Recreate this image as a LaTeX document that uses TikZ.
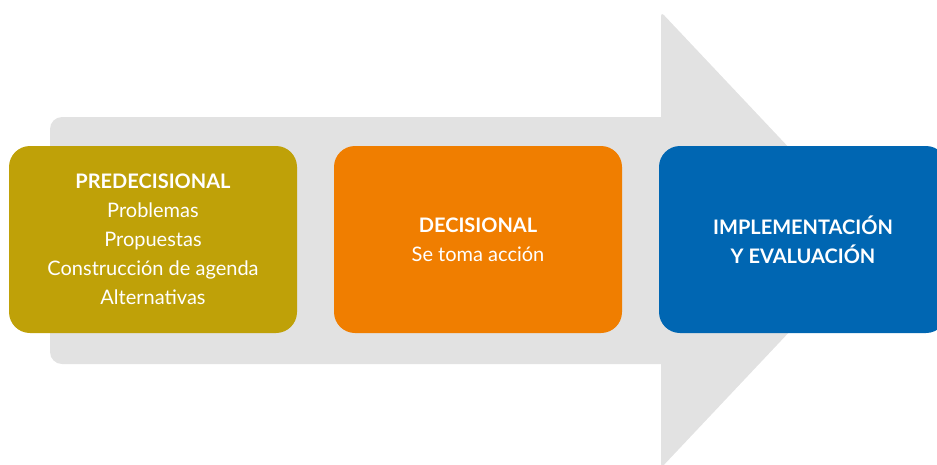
\documentclass[tikz,border=0pt]{standalone}
\usepackage{fontspec}
\setmainfont{Lato}
\definecolor{arrowgray}{HTML}{E2E2E2}
\definecolor{olivebox}{HTML}{BFA108}
\definecolor{orangebox}{HTML}{F07E00}
\definecolor{bluebox}{HTML}{0066B2}
\tikzset{
  stagebox/.style={rounded corners=21pt, minimum width=288pt, minimum height=187pt,
    text=white, align=center, inner sep=0pt,
    font=\fontsize{20}{29}\selectfont},
}
\begin{document}
\begin{tikzpicture}[x=1pt,y=-1pt]
\useasboundingbox (0,0) rectangle (937,464);
\clip (0,0) rectangle (937,464);
\fill[arrowgray, rounded corners=12pt] (50,117) rectangle (700,364);
\fill[arrowgray, rounded corners=4pt] (661,468) -- (661,12) -- (876,240) -- cycle;
\node[stagebox, fill=olivebox] (pre) at (153,239.5)
  {\textbf{PREDECISIONAL}\\Problemas\\Propuestas\\Construcción de agenda\\Alternativas};
\node[stagebox, fill=orangebox] (dec) at (478,239.5)
  {\textbf{DECISIONAL}\\Se toma acción};
\node[stagebox, fill=bluebox] (imp) at (803,239.5)
  {\textbf{IMPLEMENTACIÓN}\\\textbf{Y EVALUACIÓN}};
\end{tikzpicture}
\end{document}
